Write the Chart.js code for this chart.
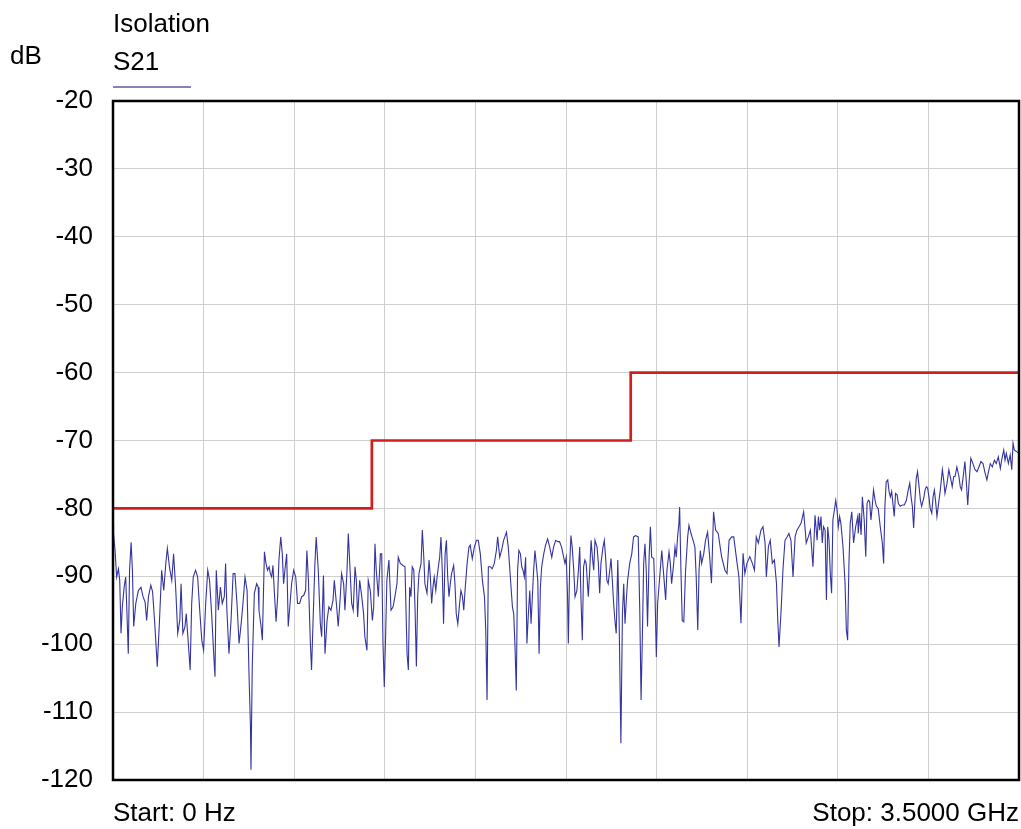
<!DOCTYPE html>
<html>
<head>
<meta charset="utf-8">
<script src="https://cdn.jsdelivr.net/npm/chart.js@4.4.1/dist/chart.umd.min.js"></script>
<style>
  html, body { margin: 0; padding: 0; background: #fff; }
  #wrap { position: relative; width: 1021px; height: 829px; }
</style>
</head>
<body>
<div id="wrap"><canvas id="chart"></canvas></div>
<script>
// S21 trace, frequency in MHz and level in dB
const freqMHz = [
  0, 2, 8, 14, 21, 26, 31, 36, 43, 49, 54, 59, 64, 70, 75, 80, 88, 98, 108, 116,
  124, 130, 137, 146, 153, 162, 171, 179, 188, 196, 204, 210, 218, 227, 234, 242, 250, 258, 263, 270,
  278, 283, 291, 298, 304, 310, 319, 327, 335, 343, 350, 358, 366, 373, 381, 389, 394, 399, 407, 415,
  422, 430, 435, 440, 448, 456, 464, 471, 479, 487, 495, 502, 510, 518, 525, 531, 533, 538, 546, 555, 561,
  564, 572, 577, 585, 591, 597, 603, 608, 613, 618, 623, 630, 636, 641, 648, 654, 659, 664, 671, 677,
  682, 690, 698, 706, 713, 721, 729, 737, 744, 749, 755, 762, 767, 775, 780, 785, 793, 801, 806, 813,
  819, 827, 834, 842, 850, 855, 863, 870, 878, 883, 891, 896, 904, 909, 914, 922, 928, 935, 940, 945,
  953, 961, 968, 973, 981, 986, 994, 1002, 1007, 1012, 1017, 1025, 1033, 1038, 1043, 1048, 1053, 1058, 1066, 1074,
  1082, 1089, 1097, 1102, 1110, 1120, 1128, 1136, 1141,
  1146, 1151, 1156, 1162, 1167, 1172, 1177, 1182, 1190, 1195, 1200, 1205, 1213, 1221, 1226, 1231, 1236, 1241, 1247, 1252,
  1257, 1262, 1267, 1272, 1277, 1283, 1288, 1293, 1298, 1303, 1308, 1316, 1321, 1326, 1332, 1339, 1344, 1350, 1355, 1360,
  1368, 1375, 1380, 1388, 1396, 1404, 1411, 1419, 1427, 1435, 1440, 1445, 1450, 1458, 1465, 1473, 1481, 1486, 1494, 1501,
  1509, 1520, 1527, 1535, 1543, 1548, 1553, 1558, 1563, 1568, 1574, 1579, 1584, 1589, 1594, 1599, 1604, 1610, 1615, 1620,
  1625, 1630, 1635, 1641, 1646, 1651, 1656, 1664, 1671, 1679, 1687, 1695, 1702, 1710, 1718,
  1725, 1733, 1741, 1746, 1751, 1756, 1759, 1764, 1769, 1774, 1780, 1785, 1792, 1798, 1803, 1808, 1813, 1818, 1823, 1828,
  1836, 1841, 1847, 1852, 1857, 1862, 1870, 1875, 1880, 1885, 1893, 1898, 1903, 1908, 1913, 1919, 1924, 1929, 1934, 1939,
  1944, 1950, 1955, 1960, 1962, 1968, 1973, 1978, 1983, 1988, 1996, 2004, 2011, 2019, 2029, 2035, 2040, 2045, 2050, 2055,
  2060, 2065, 2071, 2076, 2081, 2089, 2094, 2099, 2104, 2112, 2120, 2127, 2135, 2140, 2148, 2153, 2158, 2166, 2171, 2176,
  2181, 2186, 2189, 2194, 2199, 2205, 2212, 2220, 2225, 2233, 2241, 2248, 2253, 2259, 2264, 2269, 2274, 2282, 2289, 2297,
  2305, 2312, 2320, 2328, 2338, 2351, 2364, 2372, 2380, 2390, 2398, 2411, 2418, 2426, 2434, 2441, 2449, 2460, 2470, 2478,
  2485, 2493, 2503, 2511, 2519, 2524, 2532, 2539, 2547, 2555, 2563, 2568, 2573, 2581, 2588, 2596, 2604, 2611, 2619, 2627,
  2635, 2642, 2650, 2658, 2668, 2673, 2678, 2686, 2694, 2704, 2712, 2720, 2725, 2730, 2735, 2740, 2745, 2751, 2756, 2761,
  2766, 2771, 2776, 2781, 2787, 2792, 2797, 2802, 2807, 2812, 2820, 2828, 2833, 2838, 2843, 2848, 2854, 2861, 2869, 2877,
  2879, 2884, 2890, 2895, 2902, 2908, 2913, 2918, 2923, 2928, 2933, 2938, 2944, 2949, 2956, 2964, 2972, 2977, 2982, 2987,
  2993, 2998, 3003, 3008, 3013, 3018, 3023, 3029, 3034, 3041, 3049, 3057, 3065, 3072, 3078, 3083, 3088, 3093, 3098, 3103,
  3108, 3114, 3119, 3124, 3132, 3137, 3142, 3147, 3152, 3157, 3163, 3168, 3173, 3178, 3183, 3188, 3196, 3204, 3209, 3214,
  3222, 3229, 3237, 3242, 3248, 3253, 3260, 3268, 3273, 3278, 3286, 3291, 3296, 3302, 3307, 3314, 3322, 3330, 3338, 3345,
  3353, 3361, 3369, 3376, 3381, 3389, 3397, 3405, 3412, 3420, 3428, 3433, 3441, 3446, 3451, 3459, 3466, 3472, 3477, 3482, 3500
];
const s21 = [
  -82.3, -83.7, -86.2, -90.1, -88.9, -90.6, -98.4, -94.5, -91.6, -90.1, -95.5, -101.4, -89.1, -85.0, -89.1, -97.4, -94.0, -92.1, -91.6, -93.0,
  -93.8, -96.5, -93.0, -91.3, -92.3, -97.4, -103.3, -97.0, -89.1, -92.1, -88.1, -85.9, -88.6, -90.6, -86.7, -91.6, -98.4, -96.5, -91.1, -98.4,
  -97.4, -95.5, -99.9, -103.8, -94.0, -90.1, -89.1, -90.1, -95.0, -99.4, -100.9, -94.0, -89.1, -90.6, -95.5, -101.4, -104.8, -89.1, -95.0, -91.6,
  -94.0, -93.0, -88.1, -95.0, -101.4, -96.5, -89.6, -89.6, -94.0, -99.9, -97.0, -94.0, -90.1, -92.1, -103.8, -112.2, -118.5, -103.3, -92.5, -91.1, -91.6,
  -95.0, -97.4, -99.4, -86.4, -88.1, -89.1, -88.6, -89.6, -90.1, -88.4, -92.1, -96.7, -93.0, -87.6, -84.2, -86.7, -91.1, -89.1, -86.7, -97.4,
  -95.0, -91.1, -89.1, -90.1, -94.0, -94.0, -93.0, -92.8, -92.1, -86.2, -90.6, -99.4, -103.8, -94.0, -88.1, -84.2, -89.1, -97.0, -98.9, -89.9,
  -101.4, -96.5, -94.5, -95.0, -93.5, -90.6, -94.0, -97.4, -93.0, -89.6, -91.1, -95.0, -89.1, -83.7, -87.6, -94.0, -95.0, -88.6, -90.6, -96.0,
  -90.6, -93.0, -95.5, -98.9, -100.9, -90.6, -92.1, -96.5, -94.5, -85.2, -89.1, -93.0, -86.7, -86.7, -99.9, -106.3, -98.9, -90.6, -87.6, -95.0,
  -94.5, -93.0, -91.1, -87.2, -88.1, -88.4, -88.6, -101.4, -103.8,
  -91.6, -93.0, -88.6, -89.1, -95.0, -103.3, -93.0, -89.6, -88.1, -83.2, -86.7, -91.1, -92.5, -87.6, -90.1, -94.0, -91.6, -90.1, -92.1, -90.1,
  -88.6, -87.2, -84.2, -89.1, -97.0, -86.7, -84.7, -90.1, -93.0, -91.1, -89.6, -88.4, -91.1, -95.5, -97.0, -94.0, -92.1, -93.0, -95.0, -92.1,
  -88.1, -85.7, -85.4, -87.4, -85.7, -84.7, -84.7, -86.7, -90.6, -93.0, -97.9, -108.2, -88.6, -88.6, -88.9, -88.1, -86.2, -84.2, -87.2, -86.2,
  -84.7, -83.5, -85.7, -90.1, -94.5, -95.5, -100.4, -106.8, -89.1, -86.2, -86.7, -88.6, -89.1, -90.1, -87.2, -99.9, -96.0, -92.1, -97.0, -93.0,
  -89.1, -86.2, -88.1, -90.6, -101.4, -91.6, -88.6, -86.7, -85.4, -84.5, -85.7, -87.2, -85.7, -84.7, -84.9,
  -84.9, -85.7, -87.2, -88.1, -87.2, -93.0, -99.9, -88.6, -84.0, -85.7, -89.1, -93.0, -92.1, -89.1, -85.7, -93.5, -99.4, -88.6, -87.6, -88.1,
  -93.0, -89.6, -84.7, -87.2, -89.1, -84.7, -85.7, -88.1, -92.5, -88.1, -85.7, -84.7, -87.2, -90.6, -91.1, -89.1, -87.4, -90.6, -94.0, -96.5,
  -98.4, -87.6, -96.0, -108.7, -114.6, -95.5, -91.1, -97.0, -93.5, -90.6, -88.1, -86.7, -84.2, -84.0, -84.2, -95.0, -108.2, -98.9, -88.1, -85.2,
  -89.1, -97.4, -87.2, -82.7, -87.2, -87.4, -93.0, -101.9, -94.0, -90.1, -86.2, -89.6, -93.5, -89.1, -86.4, -88.1, -91.1, -88.1, -85.7, -87.2,
  -84.2, -82.3, -79.8, -89.1, -96.5, -96.7, -89.1, -84.2, -82.5, -83.7, -84.7, -85.7, -90.1, -97.9, -89.1, -86.2, -88.1, -86.7, -84.7, -83.5,
  -87.1, -91.0, -80.5, -83.2, -83.7, -87.1, -89.1, -89.6, -84.7, -84.2, -84.2, -88.1, -90.1, -96.9, -86.6, -89.6, -88.1, -87.1, -88.1, -89.1,
  -84.2, -85.1, -83.2, -82.7, -85.1, -90.1, -85.6, -84.7, -88.1, -87.6, -91.0, -96.4, -100.4, -95.0, -89.1, -84.7, -84.2, -83.7, -84.7, -90.1,
  -84.2, -83.2, -82.7, -82.2, -80.5, -82.7, -85.1, -84.2, -83.2, -88.6, -81.0, -84.7, -81.2, -83.2, -81.2, -85.1, -82.7, -83.2, -93.5, -82.7,
  -84.7, -89.6, -92.5, -81.7, -80.2, -78.8, -80.2, -82.7, -81.2, -82.2, -85.6, -91.0, -97.9, -99.4, -88.1, -82.2, -80.5, -85.1, -82.7, -81.2,
  -83.7, -80.7, -83.9, -78.3, -81.7, -87.1, -79.3, -78.8, -79.0, -81.7, -79.7, -77.3, -78.8, -79.7, -80.0, -82.7, -85.1, -88.1, -79.7, -76.1,
  -75.8, -77.5, -78.3, -77.5, -79.3, -81.2, -77.8, -78.0, -79.3, -79.7, -79.5, -79.5, -78.8, -77.3, -76.3, -78.3, -79.7, -82.9, -78.8, -75.6,
  -74.6, -76.8, -78.8, -79.7, -78.5, -77.3, -76.8, -77.0, -78.3, -80.0, -80.7, -78.3, -77.3, -79.0, -81.2, -79.7, -77.3, -74.3, -75.8, -77.8,
  -76.3, -74.3, -75.8, -76.8, -75.3, -75.3, -73.9, -75.3, -76.8, -77.3, -74.8, -73.1, -75.8, -79.5, -76.3, -72.6, -73.4, -74.3, -74.6, -73.9,
  -73.1, -73.4, -74.8, -75.8, -74.8, -73.4, -73.9, -72.9, -73.4, -72.4, -74.1, -72.9, -71.4, -72.9, -71.9, -73.4, -72.1, -74.3, -70.4, -71.4, -71.9
];

// limit line (stepped)
const limitFreq = [0, 1000, 1000, 2000, 2000, 3500];
const limitDb = [-80, -80, -70, -70, -60, -60];

const yMin = -120;
const yMax = -20;
const yStep = 10;
const xMax = 3500;
const xDivisions = 10;

const fontFamily = '"Liberation Sans", Arial, sans-serif';

const tracePoints = freqMHz.map((f, i) => ({ x: f, y: s21[i] }));
const limitPoints = limitFreq.map((f, i) => ({ x: f, y: limitDb[i] }));

// frame and labels around the plot
const framePlugin = {
  id: 'frame',
  afterDraw(chart) {
    const ctx = chart.ctx;
    const a = chart.chartArea;
    ctx.save();
    ctx.strokeStyle = '#000';
    ctx.lineWidth = 2.5;
    ctx.strokeRect(a.left, a.top, a.right - a.left, a.bottom - a.top);

    ctx.fillStyle = '#000';
    ctx.font = '26px ' + fontFamily;
    ctx.textBaseline = 'middle';
    ctx.textAlign = 'left';
    ctx.fillText('Isolation', a.left, 25);
    ctx.fillText('S21', a.left, 63);
    ctx.fillText('dB', 10, 57);

    ctx.strokeStyle = '#5b5b9b';
    ctx.lineWidth = 1.5;
    ctx.beginPath();
    ctx.moveTo(a.left, 87);
    ctx.lineTo(a.left + 78, 87);
    ctx.stroke();

    ctx.font = '26px ' + fontFamily;
    ctx.fillText('Start: 0 Hz', a.left, 814);
    ctx.textAlign = 'right';
    ctx.fillText('Stop: 3.5000 GHz', a.right, 814);
    ctx.restore();
  }
};

new Chart(document.getElementById('chart'), {
  type: 'line',
  data: {
    datasets: [
      {
        label: 'S21',
        data: tracePoints,
        borderColor: '#3434a0',
        borderWidth: 1.1,
        pointRadius: 0,
        tension: 0,
        fill: false
      },
      {
        label: 'Limit',
        data: limitPoints,
        borderColor: '#d01f1f',
        borderWidth: 2.7,
        pointRadius: 0,
        tension: 0,
        fill: false
      }
    ]
  },
  options: {
    responsive: true,
    maintainAspectRatio: false,
    animation: false,
    layout: { padding: { left: 0, top: 101, right: 2, bottom: 49 } },
    plugins: {
      legend: { display: false },
      tooltip: { enabled: false }
    },
    scales: {
      x: {
        type: 'linear',
        min: 0,
        max: xMax,
        ticks: { display: false, stepSize: xMax / xDivisions },
        grid: { color: '#cfcfcf', lineWidth: 1, drawTicks: false },
        border: { display: false },
        afterFit(scale) { scale.height = 0; }
      },
      y: {
        min: yMin,
        max: yMax,
        ticks: {
          stepSize: yStep,
          padding: 20,
          color: '#000',
          font: { family: fontFamily, size: 26 }
        },
        grid: { color: '#cfcfcf', lineWidth: 1, drawTicks: false },
        border: { display: false },
        afterFit(scale) { scale.width = 113; }
      }
    }
  },
  plugins: [framePlugin]
});
</script>
</body>
</html>
